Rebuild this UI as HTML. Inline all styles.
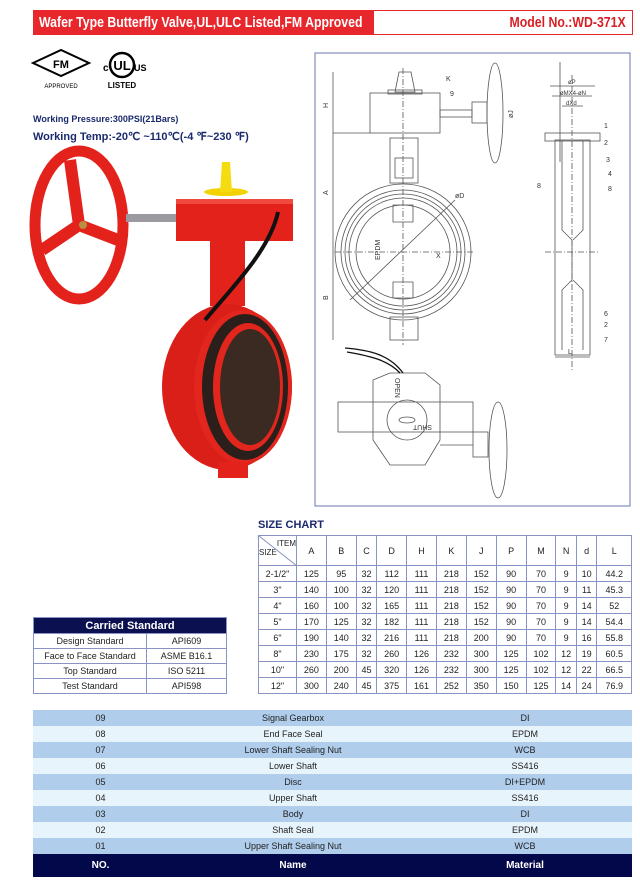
<!DOCTYPE html>
<html><head><meta charset="utf-8"><style>
body{margin:0;width:640px;height:881px;background:#fff;font-family:"Liberation Sans",sans-serif;position:relative;overflow:hidden}
.abs{position:absolute}
table{border-collapse:collapse}
#sc{left:258px;top:535px;width:374px;font-size:9px;color:#222}
#sc td{border:1px solid #8a93c6;text-align:center;height:15px;padding:0}
#cs{left:33px;top:617px;width:194px;font-size:9px;color:#222}
#cs td{border:1px solid #8a93c6;text-align:center;height:14px;padding:0}
#bt{left:33px;top:710px;width:599px;font-size:9px;color:#222}
#bt td{text-align:center;height:16px;padding:0}
#bt tr:nth-child(odd) td{background:#b0cdec}
#bt tr:nth-child(even) td{background:#e8f4fb}
.sq{display:inline-block;transform:scaleX(0.82);white-space:nowrap}
</style></head><body>
<div class="abs" style="left:33px;top:10px;width:340px;height:25px;background:#e8272c;color:#fff;font-weight:bold;font-size:15px;line-height:25px;padding-left:6px;box-sizing:border-box;overflow:hidden"><span class="sq" style="transform-origin:left center">Wafer Type Butterfly Valve,UL,ULC Listed,FM Approved</span></div>
<div class="abs" style="left:373px;top:10px;width:260px;height:25px;border:1px solid #e8272c;box-sizing:border-box;color:#d81e25;font-weight:bold;font-size:15px;line-height:23px;text-align:right;padding-right:6px"><span class="sq" style="transform-origin:right center">Model No.:WD-371X</span></div>

<svg class="abs" style="left:30px;top:48px" width="130" height="45">
<polygon points="3,15 31,2 59,15 31,28" fill="none" stroke="#000" stroke-width="2"/>
<text x="31" y="20" font-size="11" font-weight="bold" text-anchor="middle" font-family="Liberation Sans">FM</text>
<text x="31" y="40" font-size="6" text-anchor="middle" font-family="Liberation Sans">APPROVED</text>
<text x="73" y="23" font-size="10" font-weight="bold" font-family="Liberation Sans">c</text>
<circle cx="92" cy="17" r="12" fill="none" stroke="#000" stroke-width="2.5"/>
<text x="92" y="22" font-size="13" font-weight="bold" text-anchor="middle" font-family="Liberation Sans">UL</text>
<text x="104" y="23" font-size="9" font-weight="bold" font-family="Liberation Sans">US</text>
<text x="92" y="40" font-size="8" font-weight="bold" text-anchor="middle" font-family="Liberation Sans">LISTED</text>
</svg>
<div class="abs" style="left:33px;top:114px;font-size:9px;font-weight:bold;color:#1a2a6c">Working Pressure:300PSI(21Bars)</div>
<div class="abs" style="left:33px;top:130px;font-size:11px;font-weight:bold;color:#1a2a6c">Working Temp:-20℃ ~110℃(-4 ℉~230 ℉)</div>

<svg class="abs" style="left:0;top:0" width="310" height="500">
<ellipse cx="79" cy="225" rx="44" ry="74" fill="none" stroke="#e3221b" stroke-width="11"/>
<path d="M79 225 L70 160 M79 225 L42 250 M79 225 L118 240" stroke="#e3221b" stroke-width="12"/>
<circle cx="83" cy="225" r="4" fill="#b89040"/>
<rect x="126" y="214" width="50" height="8" fill="#9a9aa0"/>
<rect x="176" y="199" width="117" height="42" fill="#e3221b"/>
<rect x="176" y="199" width="117" height="5" fill="#f04a40"/>
<ellipse cx="226" cy="192" rx="22" ry="4" fill="#f2d200"/>
<polygon points="220,192 222,162 230,162 232,192" fill="#f5dc10"/>
<rect x="210" y="241" width="35" height="65" fill="#e3221b"/>
<ellipse cx="227" cy="387" rx="65" ry="83" fill="#d91f18"/>
<ellipse cx="243" cy="387" rx="49" ry="77" fill="#e3261d"/>
<ellipse cx="245" cy="387" rx="43" ry="73" fill="#2a1f1a"/>
<ellipse cx="248" cy="387" rx="35" ry="64" fill="#e3261d"/>
<ellipse cx="250" cy="387" rx="30" ry="58" fill="#3a2a22"/>
<rect x="218" y="462" width="30" height="16" fill="#e3221b"/>
<path d="M278 212 C270 250 230 290 205 320" stroke="#111" stroke-width="4" fill="none"/>
</svg>

<svg class="abs" style="left:0;top:0" width="640" height="520" font-family="Liberation Sans" font-size="7">
<rect x="315" y="53" width="315" height="453" fill="none" stroke="#6a75b0" stroke-width="1"/>
<g fill="none" stroke="#555" stroke-width="0.8">
<circle cx="403" cy="252" r="68"/><circle cx="403" cy="252" r="62"/><circle cx="403" cy="252" r="58"/><circle cx="403" cy="252" r="54"/><circle cx="403" cy="252" r="47"/>
<rect x="370" y="93" width="70" height="40"/>
<path d="M395 92 L399 72 L411 72 L415 92 Z"/><rect x="388" y="90" width="34" height="4"/>
<rect x="390" y="138" width="28" height="45"/><rect x="395" y="158" width="18" height="20"/>
<rect x="390" y="317" width="28" height="23"/>
<path d="M393 205 L393 222 L413 222 L413 205 Z M393 282 L393 298 L413 298 L413 282 Z"/>
<rect x="440" y="110" width="32" height="7"/><rect x="472" y="102" width="15" height="21"/>
<ellipse cx="495" cy="113" rx="8" ry="50"/>
<line x1="333" y1="72" x2="333" y2="340"/><line x1="333" y1="133" x2="370" y2="133"/>
<line x1="560" y1="62" x2="560" y2="162"/>
<rect x="555" y="140" width="35" height="215"/><rect x="545" y="133" width="55" height="8"/>
<path d="M562 141 L562 230 L572 240 L572 280 L562 290 L562 350 M583 141 L583 230 L573 240 M583 350 L583 290 L573 280"/>
<line x1="572" y1="75" x2="572" y2="370" stroke-dasharray="6,2,1,2"/>
<line x1="545" y1="252" x2="600" y2="252" stroke-dasharray="6,2,1,2"/>
<line x1="335" y1="252" x2="475" y2="252" stroke-dasharray="6,2,1,2"/>
<line x1="403" y1="68" x2="403" y2="345" stroke-dasharray="6,2,1,2"/>
<line x1="350" y1="300" x2="455" y2="200"/>
<line x1="550" y1="86" x2="595" y2="86"/><line x1="552" y1="96" x2="592" y2="96"/><line x1="562" y1="106" x2="583" y2="106"/>
<line x1="555" y1="357" x2="590" y2="357"/>
<rect x="338" y="402" width="135" height="30"/>
<path d="M373 380 L390 373 L425 373 L440 385 L440 440 L425 465 L390 465 L373 440 Z"/>
<circle cx="407" cy="420" r="20"/><ellipse cx="407" cy="420" rx="8" ry="3"/>
<rect x="473" y="432" width="15" height="25"/><ellipse cx="498" cy="450" rx="9" ry="48"/>
<line x1="440" y1="445" x2="473" y2="445"/>
</g>
<path d="M345 348 C370 350 390 355 403 373 M347 352 C370 356 388 360 400 373" stroke="#111" stroke-width="1.3" fill="none"/>
<g fill="#333">
<text x="446" y="81">K</text><text x="450" y="96">9</text><text x="328" y="108" transform="rotate(-90 328 108)">H</text>
<text x="328" y="195" transform="rotate(-90 328 195)">A</text><text x="328" y="300" transform="rotate(-90 328 300)">B</text>
<text x="380" y="260" transform="rotate(-90 380 260)">EPDM</text><text x="436" y="258">X</text><text x="455" y="198">øD</text>
<text x="568" y="84" font-size="6">øP</text><text x="560" y="95" font-size="6">øMX4-øN</text><text x="566" y="105" font-size="6">dXd</text>
<text x="604" y="128">1</text><text x="604" y="145">2</text><text x="606" y="162">3</text><text x="608" y="176">4</text>
<text x="537" y="188">8</text><text x="608" y="191">8</text><text x="604" y="316">6</text><text x="604" y="327">2</text><text x="604" y="342">7</text>
<text x="568" y="354">L</text><text x="513" y="118" transform="rotate(-90 513 118)">øJ</text>
<text x="395" y="378" transform="rotate(90 395 378)">OPEN</text><text x="432" y="425" transform="rotate(180 432 425)">SHUT</text>
</g>
</svg>

<div class="abs" style="left:258px;top:519px;font-size:11px;font-weight:bold;color:#1a2a6c">SIZE CHART</div>
<table id="sc" class="abs">
<tr style="height:30px"><td style="width:37px;position:relative;font-size:8px"><svg class="abs" style="left:0;top:0" width="38" height="30"><line x1="0" y1="0" x2="38" y2="30" stroke="#8a93c6"/></svg><div style="text-align:right;margin-top:-6px">ITEM</div><div style="text-align:left">SIZE</div></td><td>A</td><td>B</td><td>C</td><td>D</td><td>H</td><td>K</td><td>J</td><td>P</td><td>M</td><td>N</td><td>d</td><td>L</td></tr>
<tr><td>2-1/2"</td><td>125</td><td>95</td><td>32</td><td>112</td><td>111</td><td>218</td><td>152</td><td>90</td><td>70</td><td>9</td><td>10</td><td>44.2</td></tr>
<tr><td>3"</td><td>140</td><td>100</td><td>32</td><td>120</td><td>111</td><td>218</td><td>152</td><td>90</td><td>70</td><td>9</td><td>11</td><td>45.3</td></tr>
<tr><td>4"</td><td>160</td><td>100</td><td>32</td><td>165</td><td>111</td><td>218</td><td>152</td><td>90</td><td>70</td><td>9</td><td>14</td><td>52</td></tr>
<tr><td>5"</td><td>170</td><td>125</td><td>32</td><td>182</td><td>111</td><td>218</td><td>152</td><td>90</td><td>70</td><td>9</td><td>14</td><td>54.4</td></tr>
<tr><td>6"</td><td>190</td><td>140</td><td>32</td><td>216</td><td>111</td><td>218</td><td>200</td><td>90</td><td>70</td><td>9</td><td>16</td><td>55.8</td></tr>
<tr><td>8"</td><td>230</td><td>175</td><td>32</td><td>260</td><td>126</td><td>232</td><td>300</td><td>125</td><td>102</td><td>12</td><td>19</td><td>60.5</td></tr>
<tr><td>10"</td><td>260</td><td>200</td><td>45</td><td>320</td><td>126</td><td>232</td><td>300</td><td>125</td><td>102</td><td>12</td><td>22</td><td>66.5</td></tr>
<tr><td>12"</td><td>300</td><td>240</td><td>45</td><td>375</td><td>161</td><td>252</td><td>350</td><td>150</td><td>125</td><td>14</td><td>24</td><td>76.9</td></tr>
</table>

<table id="cs" class="abs">
<tr><td colspan="2" style="background:#0b1050;color:#fff;font-weight:bold;font-size:11px;height:15px">Carried Standard</td></tr>
<tr><td style="width:112px">Design Standard</td><td>API609</td></tr>
<tr><td>Face to Face Standard</td><td>ASME B16.1</td></tr>
<tr><td>Top Standard</td><td>ISO 5211</td></tr>
<tr><td>Test Standard</td><td>API598</td></tr>
</table>

<table id="bt" class="abs">
<tr><td style="width:135px">09</td><td style="width:250px">Signal Gearbox</td><td>DI</td></tr>
<tr><td>08</td><td>End Face Seal</td><td>EPDM</td></tr>
<tr><td>07</td><td>Lower Shaft Sealing Nut</td><td>WCB</td></tr>
<tr><td>06</td><td>Lower Shaft</td><td>SS416</td></tr>
<tr><td>05</td><td>Disc</td><td>DI+EPDM</td></tr>
<tr><td>04</td><td>Upper Shaft</td><td>SS416</td></tr>
<tr><td>03</td><td>Body</td><td>DI</td></tr>
<tr><td>02</td><td>Shaft Seal</td><td>EPDM</td></tr>
<tr><td>01</td><td>Upper Shaft Sealing Nut</td><td>WCB</td></tr>
<tr><td style="background:#03084a;color:#fff;font-weight:bold;font-size:10px;height:23px">NO.</td><td style="background:#03084a;color:#fff;font-weight:bold;font-size:10px">Name</td><td style="background:#03084a;color:#fff;font-weight:bold;font-size:10px">Material</td></tr>
</table>
</body></html>
